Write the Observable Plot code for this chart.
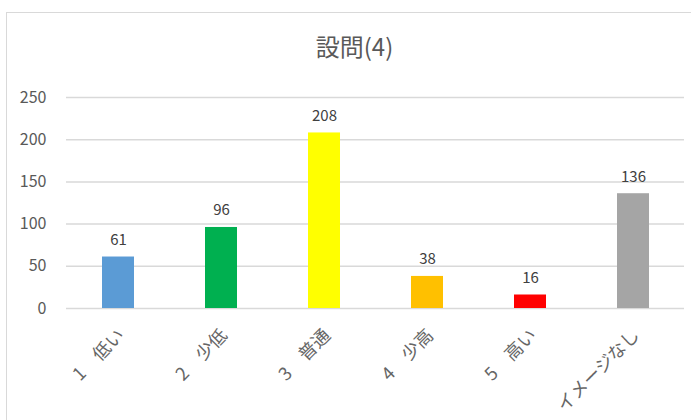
<!DOCTYPE html>
<html><head><meta charset="utf-8">
<script src="https://cdn.jsdelivr.net/npm/d3@7"></script>
<script src="https://cdn.jsdelivr.net/npm/@observablehq/plot@0.6"></script>
<style>
body{margin:0;background:#fff;font-family:"Noto Sans CJK JP","Noto Sans",sans-serif;}
#wrap{position:relative;width:691px;height:420px;overflow:hidden;}
#frame{position:absolute;left:6px;top:12px;width:700px;height:420px;border:1px solid #d9d9d9;box-sizing:border-box;}
#title{position:absolute;left:0;width:709px;top:31px;text-align:center;font-size:24px;line-height:30px;color:#595959;}
#chart{position:absolute;left:0;top:0;}
</style></head><body>
<div id="wrap"><div id="frame"></div><div id="title">設問(4)</div><div id="chart"></div></div>
<script>
const categories = ["1　低い","2　少低","3　普通","4　少高","5　高い","イメージなし"];
const values = [61,96,208,38,16,136];
const colors = ["#5b9bd5","#00b050","#ffff00","#ffc000","#ff0000","#a5a5a5"];
const yTicks = [0,50,100,150,200,250];
const data = categories.map((c,i)=>({cat:c,val:values[i],col:colors[i]}));
const chart = Plot.plot({
  width:691,height:420,
  marginTop:97,marginBottom:112,marginLeft:66,marginRight:7,
  style:{fontFamily:'"Noto Sans CJK JP","Noto Sans",sans-serif',background:"transparent",color:"#595959"},
  x:{domain:categories,paddingInner:0.69,paddingOuter:0.345,label:null},
  y:{domain:[0,250],label:null},
  marks:[
    Plot.gridY(yTicks,{stroke:"#d9d9d9",strokeOpacity:1,strokeWidth:1.5}),
    Plot.barY(data,{x:"cat",y:"val",fill:"col"}),
    Plot.text(data,{x:"cat",y:"val",text:d=>String(d.val),dy:-17,fill:"#404040",fontSize:15}),
    Plot.axisY({ticks:yTicks,tickSize:0,tickPadding:20,fontSize:16,fill:"#595959",label:null}),
    Plot.axisX({tickSize:0,tickRotate:-45,tickPadding:24,dx:3,fontSize:18,fill:"#666666",label:null})
  ]
});
document.getElementById("chart").appendChild(chart);
</script>
</body></html>
